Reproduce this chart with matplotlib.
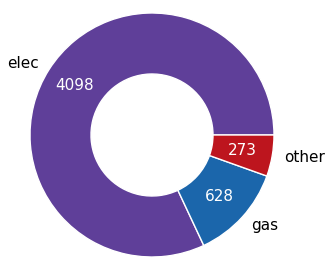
import matplotlib
matplotlib.use("Agg")
import matplotlib.pyplot as plt

labels = ["elec", "gas", "other"]
values = [4098, 628, 273]
colors = ["#5f3f99", "#1b66ab", "#bd151e"]

W, H = 333, 269
cx, cy, r = 152, 135, 122  # pixel centre / radius of the donut

fig = plt.figure(figsize=(W / 100, H / 100), dpi=100)
ax = fig.add_axes([0, 0, 1, 1])

wedges, texts, autotexts = ax.pie(
    values, labels=labels, colors=colors, startangle=0,
    autopct=lambda p: "%d" % round(p * sum(values) / 100),
    pctdistance=0.75, labeldistance=1.1,
    wedgeprops=dict(width=0.5, edgecolor="white", linewidth=1),
    textprops=dict(fontsize=11),
)
for t in autotexts:
    t.set_color("white")

ax.set_xlim(-cx / r, (W - cx) / r)
ax.set_ylim(-(H - cy) / r, cy / r)
ax.set_aspect("auto")
ax.axis("off")

fig.savefig("out.png", dpi=100)
